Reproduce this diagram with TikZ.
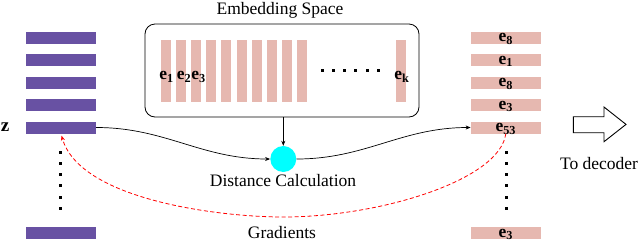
\documentclass[tikz,border=0pt]{standalone}
\usepackage{fontspec}
\setmainfont{Liberation Serif}
\usetikzlibrary{arrows.meta, positioning}
\definecolor{zviolet}{RGB}{104,81,163}
\definecolor{cbpink}{RGB}{230,184,176}
\definecolor{distcyan}{RGB}{0,255,255}
\newcommand{\ev}[1]{\textbf{e}\textsubscript{\textbf{#1}}}
\tikzset{
  zbar/.style ={fill=zviolet, minimum width=70pt, minimum height=12pt, inner sep=0pt},
  ebar/.style ={fill=cbpink, minimum width=70pt, minimum height=12pt, inner sep=0pt, text height=8pt, text depth=0pt},
  cbar/.style ={fill=cbpink, minimum width=10pt, minimum height=62pt, inner sep=0pt},
  embox/.style={draw, rounded corners=10pt, minimum width=274pt, minimum height=93pt, line width=0.8pt},
  distc/.style={circle, fill=distcyan, minimum size=26pt, inner sep=0pt},
  conn/.style ={-{Stealth[length=5pt,width=4pt]}, line width=0.7pt},                        % forward pass
  grad/.style ={-{Stealth[length=5pt,width=4pt]}, line width=0.8pt, red, dash pattern=on 4pt off 2.5pt}, % gradient copy
  outarr/.style={draw, line width=0.9pt},
}

\begin{document}
\begin{tikzpicture}[x=1pt, y=1pt, font=\fontsize{17.5}{20}\selectfont]
  \useasboundingbox (0,0) rectangle (638,-242);

  % LEFT: encoder output z
  \foreach \i/\y in {1/37.5, 2/60, 3/82.5, 4/105, 5/127.5}
    \node[zbar] (z\i) at (61,-\y) {};
  \node[zbar] (z6) at (61,-233.3) {};
  \node (zl) at (5,-127) {\fontsize{19}{20}\selectfont\textbf{z}};
  \foreach \j in {0,...,5}
    \fill (59.2,-150.5-11.3*\j) rectangle ++(3,-3);

  % MIDDLE: codebook
  \node (embt) at (280,-10) {Embedding Space};
  \foreach \i in {0,...,9}
    \node[cbar] (c\i) at (166+15.1*\i,-71) {};
  \node[cbar] (ck) at (401,-71) {};
  \node[embox] (emb) at (282,-70.5) {};
  \node (l1) at (166.5,-77) {\ev{1}};
  \node (l2) at (184,-77) {\ev{2}};
  \node (l3) at (198.5,-77) {\ev{3}};
  \node (lk) at (402,-77) {\ev{k}};
  \foreach \j in {0,...,5}
    \fill (320.5+11.3*\j,-68.5) rectangle ++(3,-3);

  \node[distc] (dist) at (283.3,-159) {};
  \node (distl) at (283,-181) {Distance Calculation};
  \draw[conn] (emb.south -| dist.north) -- (dist.north);
  \draw[conn] (z5.east) to[out=0, in=180] (dist.west);

  % RIGHT: quantized z_q
  \foreach \i/\y/\k in {1/37.5/8, 2/60/1, 3/82.5/8, 4/105/3, 5/127.5/53}
    \node[ebar] (r\i) at (505.8,-\y) {\ev{\k}};
  \node[ebar] (r6) at (505.8,-233.3) {\ev{3}};
  \foreach \j in {0,...,5}
    \fill (504.5,-150.5-11.3*\j) rectangle ++(3,-3);
  \draw[conn] (dist.east) to[out=0, in=180] (r5.west);

  % gradient copied back
  \draw[grad, shorten >=2pt] (r5.south) .. controls (500,-180) and (380,-217) .. (283,-217)
    .. controls (220,-217) and (80,-200) .. (z5.south);
  \node (gradl) at (282,-233) {Gradients};

  % to decoder
  \draw[outarr] (573.3,-116.7) -- (604,-116.7) -- (604,-107) -- (626,-124.4)
    -- (604,-141.7) -- (604,-132.7) -- (573.3,-132.7) -- cycle;
  \node (decl) at (599,-164) {To decoder};
\end{tikzpicture}
\end{document}
